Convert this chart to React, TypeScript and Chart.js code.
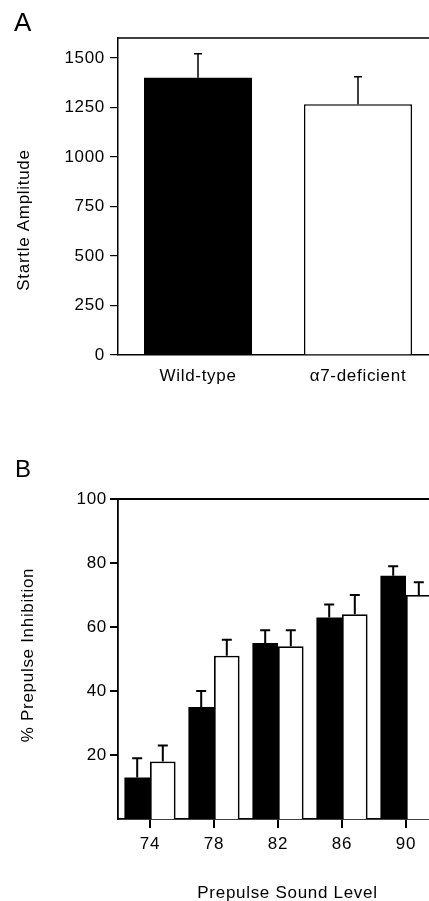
import React, { useEffect, useRef } from 'react';
import { Chart, registerables } from 'chart.js';

Chart.register(...registerables);

// ---------- Panel A data ----------
const groupsA = ['Wild-type', 'α7-deficient'];
const amplitudeA = [1400, 1265];
const amplitudeErrA = [120, 140];
const ticksA = [0, 250, 500, 750, 1000, 1250, 1500];
const colorsA = ['#000000', '#ffffff'];

// ---------- Panel B data ----------
const levelsB = ['74', '78', '82', '86', '90'];
const wildTypeB = [13, 35, 55, 63, 76];
const wildTypeErrB = [6, 5, 4, 4, 3];
const deficientB = [18, 51, 54, 64, 70];
const deficientErrB = [5, 5, 5, 6, 4];
const ticksB = [20, 40, 60, 80, 100];

const FONT = '"Liberation Sans", Arial, Helvetica, sans-serif';
const SPACING = '0.7px';
const FS = 17;

type TextItem = { text: string; x: number; y: number; size: number; rotate?: boolean; align?: CanvasTextAlign };

function spacingPlugin() {
  return {
    id: 'spacing',
    beforeUpdate(chart: any) { chart.ctx.letterSpacing = SPACING; },
    beforeDraw(chart: any) { chart.ctx.letterSpacing = SPACING; },
  };
}

function errorBarPlugin(lineWidth: number, cap: number) {
  return {
    id: 'errorBars',
    afterDatasetsDraw(chart: any) {
      const ctx = chart.ctx;
      const yScale = chart.scales.y;
      chart.data.datasets.forEach((ds: any, i: number) => {
        const errs = ds.errors;
        if (!errs) return;
        const meta = chart.getDatasetMeta(i);
        meta.data.forEach((el: any, j: number) => {
          const v = ds.data[j];
          const yTop = yScale.getPixelForValue(v + errs[j]);
          ctx.save();
          ctx.strokeStyle = '#000';
          ctx.lineWidth = lineWidth;
          ctx.beginPath();
          ctx.moveTo(el.x, el.y);
          ctx.lineTo(el.x, yTop);
          ctx.moveTo(el.x - cap / 2, yTop);
          ctx.lineTo(el.x + cap / 2, yTop);
          ctx.stroke();
          ctx.restore();
        });
      });
    },
  };
}

function framePlugin(lineWidth: number) {
  return {
    id: 'frame',
    afterDraw(chart: any) {
      const { ctx, chartArea } = chart;
      ctx.save();
      ctx.strokeStyle = '#000';
      ctx.lineWidth = lineWidth;
      ctx.beginPath();
      ctx.moveTo(chartArea.left, chartArea.top);
      ctx.lineTo(chartArea.right, chartArea.top);
      ctx.lineTo(chartArea.right, chartArea.bottom);
      ctx.stroke();
      ctx.restore();
    },
  };
}

function textPlugin(items: TextItem[]) {
  return {
    id: 'texts',
    afterDraw(chart: any) {
      const ctx = chart.ctx;
      items.forEach((it) => {
        ctx.save();
        ctx.letterSpacing = SPACING;
        ctx.fillStyle = '#000';
        ctx.font = `${it.size}px ${FONT}`;
        ctx.textBaseline = 'alphabetic';
        ctx.textAlign = it.align || 'center';
        ctx.translate(it.x, it.y);
        if (it.rotate) ctx.rotate(-Math.PI / 2);
        ctx.fillText(it.text, 0, 0);
        ctx.restore();
      });
    },
  };
}

export default function App() {
  const refA = useRef<HTMLCanvasElement>(null);
  const refB = useRef<HTMLCanvasElement>(null);

  useEffect(() => {
    Chart.defaults.color = '#000';
    Chart.defaults.font.family = FONT;
    Chart.defaults.font.size = FS;

    const chartA = new Chart(refA.current!, {
      type: 'bar',
      data: {
        labels: groupsA,
        datasets: [
          {
            data: amplitudeA,
            errors: amplitudeErrA,
            backgroundColor: colorsA,
            borderColor: '#000',
            borderWidth: [0, 1.5],
            categoryPercentage: 0.675,
            barPercentage: 1,
          } as any,
        ],
      },
      options: {
        responsive: false,
        animation: false,
        events: [],
        layout: { padding: { left: 0, top: 38, right: 12, bottom: 0 } },
        plugins: { legend: { display: false }, tooltip: { enabled: false } },
        scales: {
          x: {
            grid: { display: false },
            border: { display: true, color: '#000', width: 1.5 },
            ticks: { padding: 3, color: '#000', font: { size: FS } },
            afterFit: (s: any) => { s.height = 65; },
          },
          y: {
            min: 0,
            max: 1600,
            grid: { display: true, drawOnChartArea: false, drawTicks: true, tickLength: 8, color: '#000', lineWidth: 1.2 },
            border: { display: true, color: '#000', width: 1.5 },
            ticks: { padding: 5, color: '#000', font: { size: FS }, callback: (v: any) => String(v) },
            afterBuildTicks: (s: any) => { s.ticks = ticksA.map((v) => ({ value: v })); },
            afterFit: (s: any) => { s.width = 118; },
          },
        },
      } as any,
      plugins: [
        spacingPlugin(),
        errorBarPlugin(1.5, 8),
        framePlugin(1.5),
        textPlugin([
          { text: 'A', x: 14, y: 31, size: 26, align: 'left' },
          { text: 'Startle Amplitude', x: 29, y: 220, size: FS, rotate: true },
        ]),
      ],
    });

    const chartB = new Chart(refB.current!, {
      type: 'bar',
      data: {
        labels: levelsB,
        datasets: [
          {
            data: wildTypeB,
            errors: wildTypeErrB,
            backgroundColor: '#000',
            borderColor: '#000',
            borderWidth: 0,
            categoryPercentage: 0.8,
            barPercentage: 1,
          } as any,
          {
            data: deficientB,
            errors: deficientErrB,
            backgroundColor: '#fff',
            borderColor: '#000',
            borderWidth: 1.8,
            categoryPercentage: 0.8,
            barPercentage: 1,
          } as any,
        ],
      },
      options: {
        responsive: false,
        animation: false,
        events: [],
        layout: { padding: { left: 0, top: 79, right: 12, bottom: 0 } },
        plugins: { legend: { display: false }, tooltip: { enabled: false } },
        scales: {
          x: {
            grid: { display: true, offset: false, drawOnChartArea: false, drawTicks: true, tickLength: 9, color: '#000', lineWidth: 2 },
            border: { display: true, color: '#000', width: 1.8 },
            ticks: { padding: 6, color: '#000', font: { size: FS } },
            afterFit: (s: any) => { s.height = 82; },
          },
          y: {
            min: 0,
            max: 100,
            grid: { display: true, drawOnChartArea: false, drawTicks: true, tickLength: 8, color: '#000', lineWidth: 2 },
            border: { display: true, color: '#000', width: 1.8 },
            ticks: { padding: 3, color: '#000', font: { size: FS }, callback: (v: any) => String(v) },
            afterBuildTicks: (s: any) => { s.ticks = ticksB.map((v) => ({ value: v })); },
            afterFit: (s: any) => { s.width = 118; },
          },
        },
      } as any,
      plugins: [
        spacingPlugin(),
        errorBarPlugin(2, 10),
        framePlugin(1.8),
        textPlugin([
          { text: 'B', x: 15, y: 57, size: 24, align: 'left' },
          { text: '% Prepulse Inhibition', x: 33, y: 235, size: FS, rotate: true },
          { text: 'Prepulse Sound Level', x: 287.5, y: 478, size: FS },
        ]),
      ],
    });

    return () => {
      chartA.destroy();
      chartB.destroy();
    };
  }, []);

  return (
    <div
      style={{
        position: 'absolute',
        left: 0,
        top: 0,
        width: 429,
        height: 901,
        overflow: 'hidden',
        background: '#fff',
      }}
    >
      <canvas ref={refA} width={450} height={420} style={{ position: 'absolute', left: 0, top: 0, display: 'block' }} />
      <canvas ref={refB} width={450} height={481} style={{ position: 'absolute', left: 0, top: 420, display: 'block' }} />
    </div>
  );
}
